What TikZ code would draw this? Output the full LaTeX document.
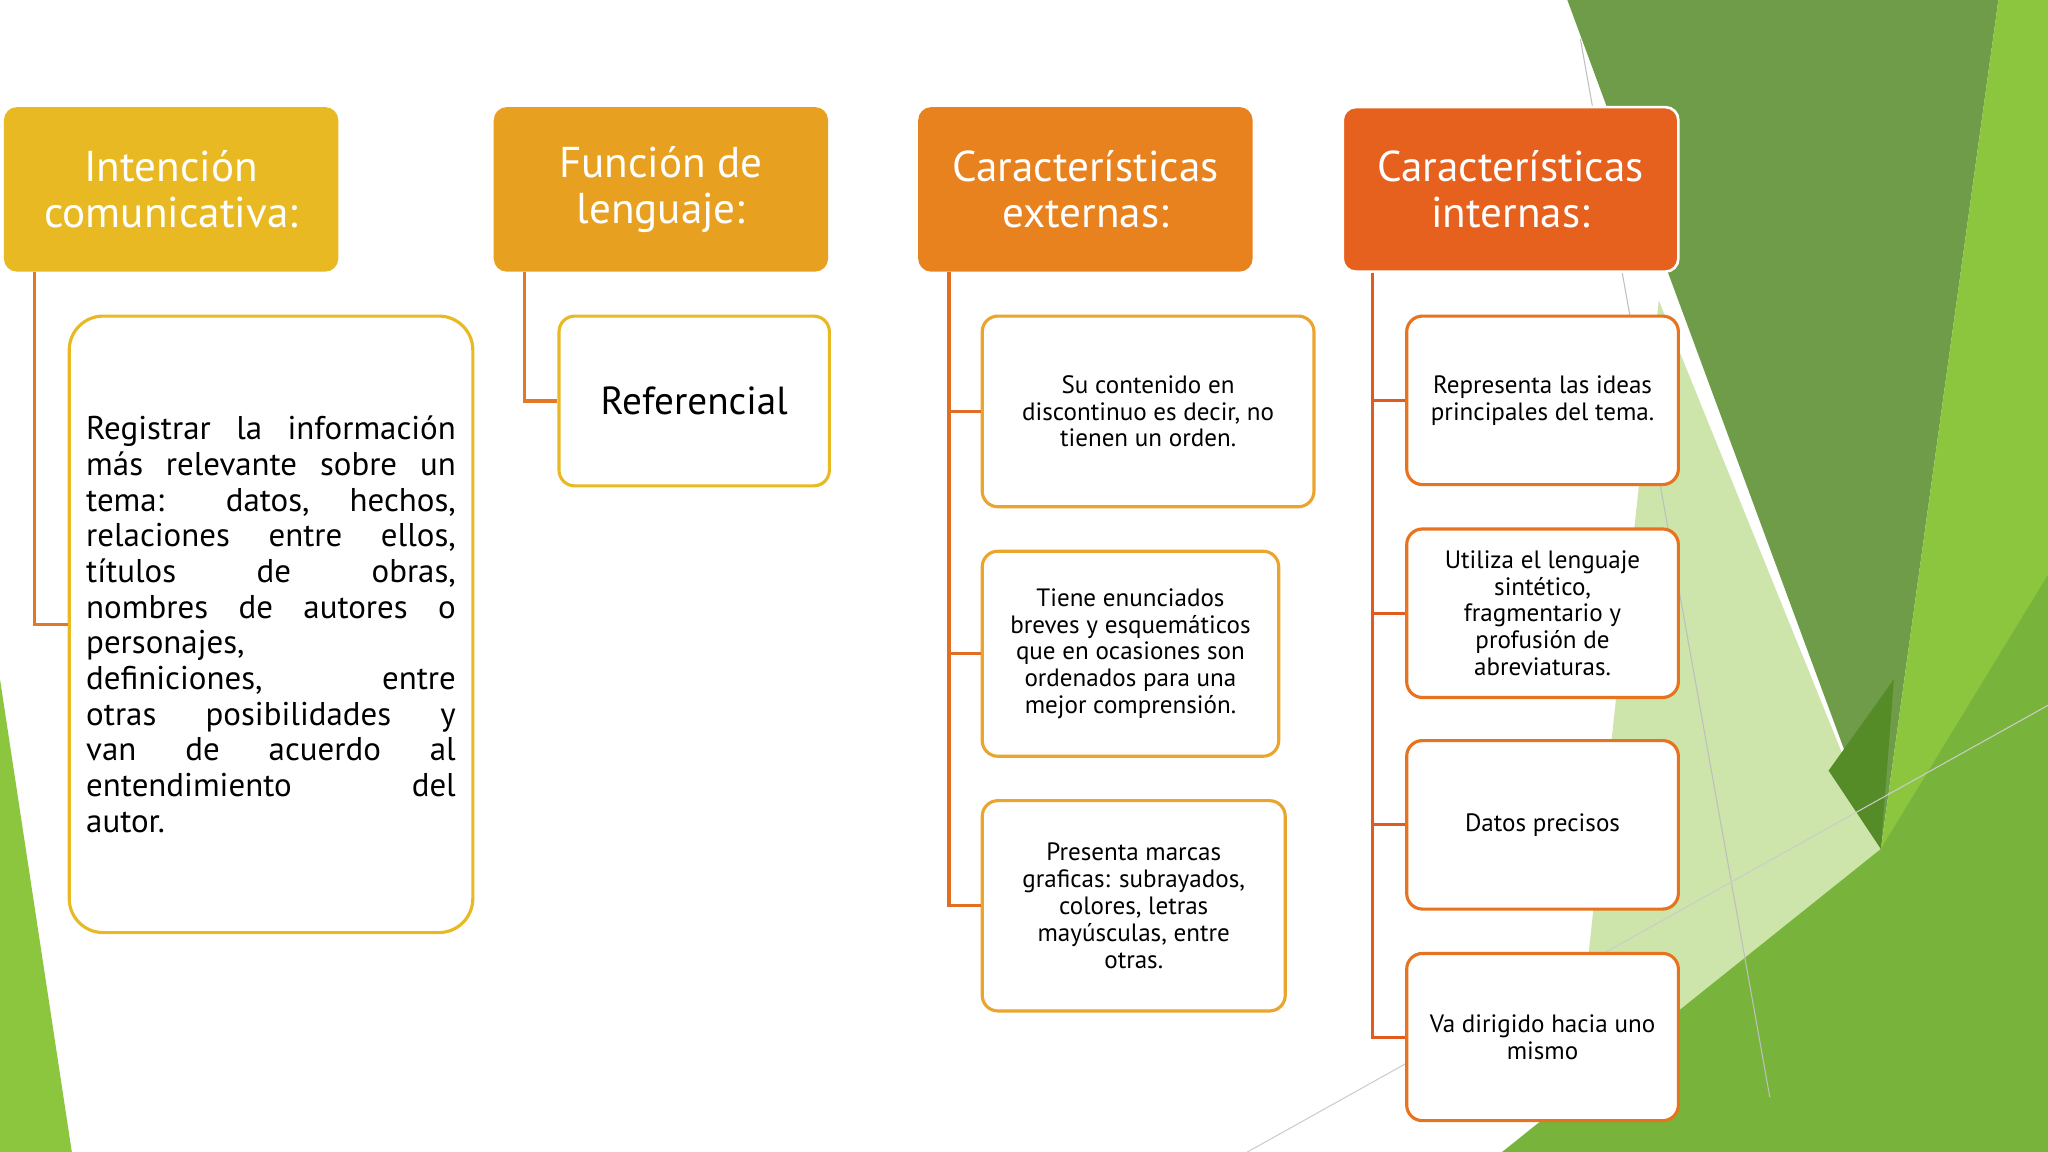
\documentclass[tikz,border=0pt]{standalone}
\usepackage{fontspec}
\setmainfont{PT Sans}
\definecolor{hA}{RGB}{232,185,35}
\definecolor{hB}{RGB}{232,160,32}
\definecolor{hC}{RGB}{232,130,30}
\definecolor{hD}{RGB}{230,96,30}
\definecolor{bC}{RGB}{235,165,45}
\definecolor{bD}{RGB}{232,115,31}
\definecolor{lA}{RGB}{225,120,40}
\definecolor{lC}{RGB}{225,110,35}
\definecolor{lD}{RGB}{225,90,30}
\definecolor{gDark}{RGB}{110,156,72}
\definecolor{gBright}{RGB}{140,198,63}
\definecolor{gPale}{RGB}{205,228,170}
\definecolor{gMid}{RGB}{120,180,60}
\definecolor{gDeep}{RGB}{85,140,40}
\begin{document}
\begin{tikzpicture}[x=0.5pt,y=-0.5pt,
 hdr/.style={rounded corners=5pt,text=white,align=center,font=\fontsize{16.5}{17.5}\selectfont,inner sep=0pt},
 kid/.style={draw=#1,line width=1.2pt,fill=white,rounded corners=6pt,align=center,inner sep=0pt,font=\fontsize{9.6}{10.25}\selectfont},
 lnk/.style={draw=#1,line width=1.2pt}]
\useasboundingbox (0,0) rectangle (1568,882);
\fill[white] (0,0) rectangle (1568,882);
% green background
\fill[gDark] (1200,0) -- (1530,0) -- (1440,650) -- cycle;
\fill[gBright] (1530,0) -- (1568,0) -- (1568,882) -- (1340,882) -- (1440,650) -- cycle;
\fill[gPale] (1270,230) -- (1440,650) -- (1300,882) -- (1200,882) -- cycle;
\fill[gMid] (1440,650) -- (1568,440) -- (1568,882) -- (1150,882) -- cycle;
\fill[gDeep] (1400,590) -- (1450,520) -- (1440,650) -- cycle;
\fill[gBright] (0,520) -- (55,882) -- (0,882) -- cycle;
\draw[gray!50,line width=0.4pt] (1210,30) -- (1355,840);
\draw[gray!40,line width=0.4pt] (955,882) -- (1568,540);
% headers
\node[hdr,fill=hA,minimum width=128pt,minimum height=63pt] (h1) at (131,145) {Intención\\comunicativa:};
\node[hdr,fill=hB,minimum width=128pt,minimum height=63pt] (h2) at (506,145) {Función de\\lenguaje:};
\node[hdr,fill=hC,minimum width=128pt,minimum height=63pt] (h3) at (831,145) {Características\\externas:};
\node[hdr,fill=hD,draw=white,line width=1pt,minimum width=128.5pt,minimum height=63pt] (h4) at (1156.5,145) {Características\\internas:};
% children
\node[kid=hA,rounded corners=13pt,minimum width=154.5pt,minimum height=236pt,font=\fontsize{12.6}{13.65}\selectfont] (c1) at (207.5,478)
{\parbox{141.5pt}{\makebox[141.5pt][s]{Registrar la información}\\
\makebox[141.5pt][s]{más relevante sobre un}\\
\makebox[141.5pt][s]{tema: datos, hechos,}\\
\makebox[141.5pt][s]{relaciones entre ellos,}\\
\makebox[141.5pt][s]{títulos de obras,}\\
\makebox[141.5pt][s]{nombres de autores o}\\
personajes,\\
\makebox[141.5pt][s]{definiciones, entre}\\
\makebox[141.5pt][s]{otras posibilidades y}\\
\makebox[141.5pt][s]{van de acuerdo al}\\
\makebox[141.5pt][s]{entendimiento del}\\
autor.}};
\node[kid=hA,minimum width=103.5pt,minimum height=65pt,font=\fontsize{15}{17}\selectfont] (c2) at (531.5,307) {Referencial};
\node[kid=bC,minimum width=127pt,minimum height=73pt] (c3a) at (879,315) {Su contenido en\\discontinuo es decir, no\\tienen un orden.};
\node[kid=bC,minimum width=113.5pt,minimum height=78.5pt] (c3b) at (865.5,500.5) {Tiene enunciados\\breves y esquemáticos\\que en ocasiones son\\ordenados para una\\mejor comprensión.};
\node[kid=bC,minimum width=116pt,minimum height=80.5pt] (c3c) at (868,693.5) {Presenta marcas\\graficas: subrayados,\\colores, letras\\mayúsculas, entre\\otras.};
\node[kid=bD,minimum width=104pt,minimum height=64.5pt] (c4a) at (1181,306.5) {Representa las ideas\\principales del tema.};
\node[kid=bD,minimum width=104pt,minimum height=64.5pt] (c4b) at (1181,469.5) {Utiliza el lenguaje\\sintético,\\fragmentario y\\profusión de\\abreviaturas.};
\node[kid=bD,minimum width=104pt,minimum height=64.5pt] (c4c) at (1181,631.5) {Datos precisos};
\node[kid=bD,minimum width=104pt,minimum height=64pt] (c4d) at (1181,794) {Va dirigido hacia uno\\mismo};
% connectors
\draw[lnk=lA] ([xshift=12pt]h1.south west) |- (c1.west);
\draw[lnk=lA] ([xshift=12pt]h2.south west) |- (c2.west);
\draw[lnk=lC] ([xshift=12pt]h3.south west) |- (c3c.west);
\draw[lnk=lC] ([xshift=12pt]h3.south west) |- (c3a.west);
\draw[lnk=lC] ([xshift=12pt]h3.south west) |- (c3b.west);
\draw[lnk=lD] ([xshift=12pt]h4.south west) |- (c4d.west);
\draw[lnk=lD] ([xshift=12pt]h4.south west) |- (c4a.west);
\draw[lnk=lD] ([xshift=12pt]h4.south west) |- (c4b.west);
\draw[lnk=lD] ([xshift=12pt]h4.south west) |- (c4c.west);
\end{tikzpicture}
\end{document}
